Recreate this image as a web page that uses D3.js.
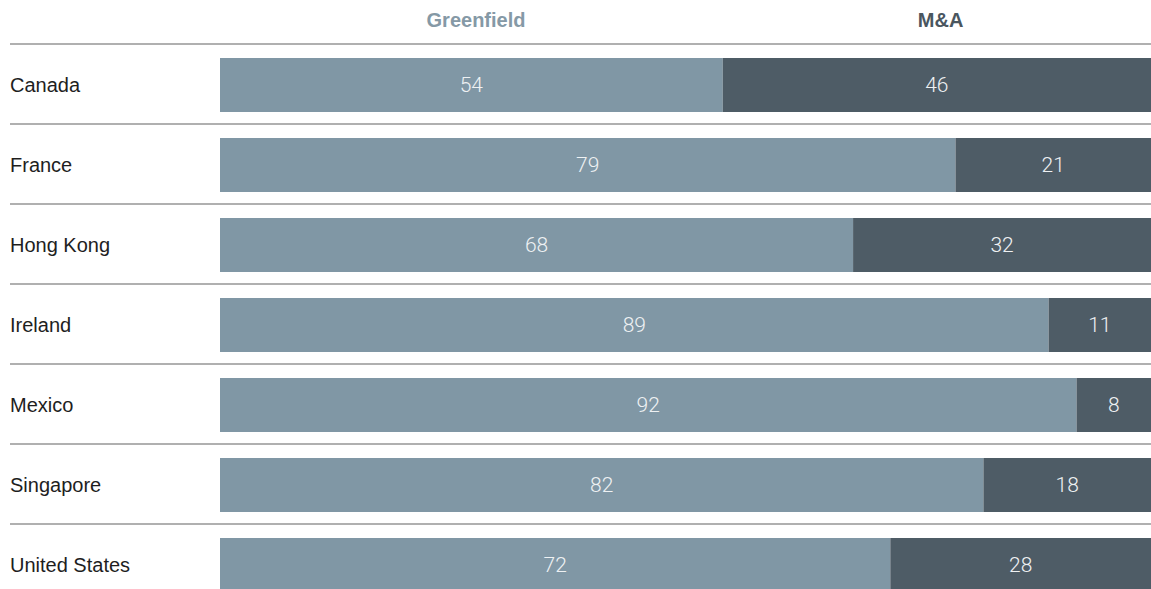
<!DOCTYPE html>
<html>
<head>
<meta charset="utf-8">
<script src="https://cdn.jsdelivr.net/npm/d3@7"></script>
<style>
    body { margin: 0; background: #fff; }
    svg { display: block; }
</style>
</head>
<body>
<div id="chart"></div>
<script>
//~~~~~~~~~~~~~~~~~~~~~~~~~~~~~~~~~~~~
// Data
//~~~~~~~~~~~~~~~~~~~~~~~~~~~~~~~~~~~~
const countries = ["Canada", "France", "Hong Kong", "Ireland", "Mexico", "Singapore", "United States"];
const greenfield = [54, 79, 68, 89, 92, 82, 72];
const mna = [46, 21, 32, 11, 8, 18, 28];
const seriesNames = ["Greenfield", "M&A"];

//~~~~~~~~~~~~~~~~~~~~~~~~~~~~~~~~~~~~
// Chart
//~~~~~~~~~~~~~~~~~~~~~~~~~~~~~~~~~~~~
function createChart() {
    const width = 1151;
    const height = 589;
    const colors = ["#8097a5", "#4e5c66"];

    const svg = d3.select("#chart")
        .append("svg")
        .attr("width", width)
        .attr("height", height)
        .style("font-family", "'Liberation Sans', Arial, sans-serif");

    const x = d3.scaleLinear().domain([0, 100]).range([220, width]);
    const y = d3.scaleBand().domain(countries).range([44, 44 + countries.length * 80]);

    // header labels
    svg.selectAll(".head")
        .data(seriesNames)
        .join("text")
        .attr("x", (d, i) => x(i === 0 ? 27.5 : 77.4))
        .attr("y", 27)
        .attr("text-anchor", "middle")
        .attr("font-weight", "bold")
        .attr("font-size", 20)
        .attr("fill", (d, i) => i === 0 ? "#8599a6" : "#4a565f")
        .text(d => d);

    // separator lines
    svg.selectAll(".sep")
        .data(countries)
        .join("line")
        .attr("x1", 10)
        .attr("x2", width)
        .attr("y1", d => y(d))
        .attr("y2", d => y(d))
        .attr("stroke", "#b0b0b0")
        .attr("stroke-width", 2);

    const rows = svg.selectAll(".row")
        .data(countries.map((c, i) => ({ country: c, vals: [greenfield[i], mna[i]] })))
        .join("g")
        .attr("transform", d => `translate(0,${y(d.country)})`);

    rows.append("text")
        .attr("x", 10)
        .attr("y", 48)
        .attr("font-size", 20)
        .attr("fill", "#1e1e1e")
        .text(d => d.country);

    const segs = rows.selectAll(".seg")
        .data(d => [
            { start: 0, end: d.vals[0], v: d.vals[0], k: 0 },
            { start: d.vals[0], end: d.vals[0] + d.vals[1], v: d.vals[1], k: 1 }
        ])
        .join("g");

    segs.append("rect")
        .attr("x", d => x(d.start))
        .attr("width", d => x(d.end) - x(d.start))
        .attr("y", 14)
        .attr("height", 54)
        .attr("fill", d => colors[d.k]);

    segs.append("text")
        .attr("x", d => (x(d.start) + x(d.end)) / 2)
        .attr("y", 48)
        .attr("text-anchor", "middle")
        .attr("font-family", "Roboto, sans-serif")
        .attr("font-weight", 300)
        .attr("font-size", 21)
        .attr("fill", "#eef1f3")
        .text(d => d.v);
}

createChart();
</script>
</body>
</html>
